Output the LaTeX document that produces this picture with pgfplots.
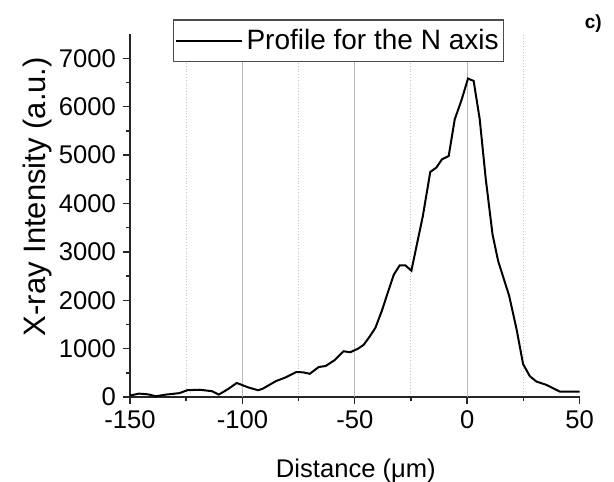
\documentclass[border=0pt]{standalone}
\usepackage{fontspec}
\setmainfont{Liberation Sans}
\usepackage{pgfplots}
\pgfplotsset{compat=1.18}
\begin{document}
\begin{tikzpicture}
\begin{axis}[
  at={(0,0)}, anchor=south west,
  scale only axis, width=224.75pt, height=181.5pt,
  xmin=-150, xmax=50, ymin=0, ymax=7500,
  axis lines*=left,
  axis line style={line width=0.75pt, black!85},
  xtick={-150,-100,-50,0,50},
  ytick={0,1000,...,7000},
  minor x tick num=1,
  minor y tick num=1,
  tick align=outside,
  major tick length=3.5pt,
  minor tick length=2pt,
  tick style={line width=0.7pt, black!85},
  minor x grid style={gray!45, densely dotted, line width=0.5pt},
  xminorgrids=true,
  extra x ticks={-100,-50,0},
  extra x tick labels={},
  extra x tick style={grid=major, major tick length=0pt, major grid style={gray!55, line width=0.5pt}},
  /pgf/number format/assume math mode=true,
  /pgf/number format/1000 sep={},
  ticklabel style={font=\fontsize{12.8}{15}\selectfont},
  xlabel={Distance (μm)},
  ylabel={X-ray Intensity (a.u.)},
  xlabel style={font=\fontsize{12.8}{15}\selectfont, at={(axis description cs:0.5025,-0.223)}, anchor=base},
  ylabel style={font=\fontsize{15.5}{18}\selectfont, at={(axis description cs:-0.189,0.552)}, anchor=base, rotate=0},
  legend style={at={(axis description cs:0.0955,1.0405)}, anchor=north west,
    draw=black!70, line width=0.6pt, fill=white,
    font=\fontsize{14}{16}\selectfont,
    inner xsep=0.5pt, inner ysep=2.5pt},
  legend image code/.code={\draw[#1, line width=1pt] (0pt,0pt) -- (33pt,0pt);},
  clip=false,
]
\addplot[black, line width=1pt] coordinates {
(-150,30) (-146,70) (-142,55) (-138.5,15) (-134,50) (-128,80) (-124.5,140)
(-119,150) (-113.5,120) (-110.5,50) (-106.5,160) (-102.5,290) (-97.5,200)
(-93,140) (-91,170) (-85,330) (-81,400) (-76,515) (-73,510) (-70,480)
(-66,620) (-63,640) (-59,760) (-55,945) (-52,925) (-48.5,1000) (-46,1080)
(-43.8,1220) (-40.8,1430) (-37.8,1800) (-35,2200) (-32.6,2530) (-30,2720)
(-27.5,2720) (-24.8,2610) (-19.7,3740) (-16.4,4650) (-13.7,4740) (-11.2,4910)
(-8.2,4980) (-5.5,5740) (-2.6,6120) (0.4,6580) (2.9,6530) (5.6,5740)
(8.3,4500) (11.3,3360) (13.8,2810) (18.7,2090) (22,1400) (24.9,680)
(27.9,430) (30.8,320) (35.3,250) (38.3,180) (41.3,110) (50,110)
};
\addlegendentry{Profile for the N axis\hspace{3pt}}
\node[font=\bfseries\fontsize{9.5}{11}\selectfont] at (axis description cs:1.0305,1.029) {c)};
\end{axis}
\pgfresetboundingbox
\path[use as bounding box] (-65pt,-42pt) rectangle (242pt,198.5pt);
\end{tikzpicture}
\end{document}
